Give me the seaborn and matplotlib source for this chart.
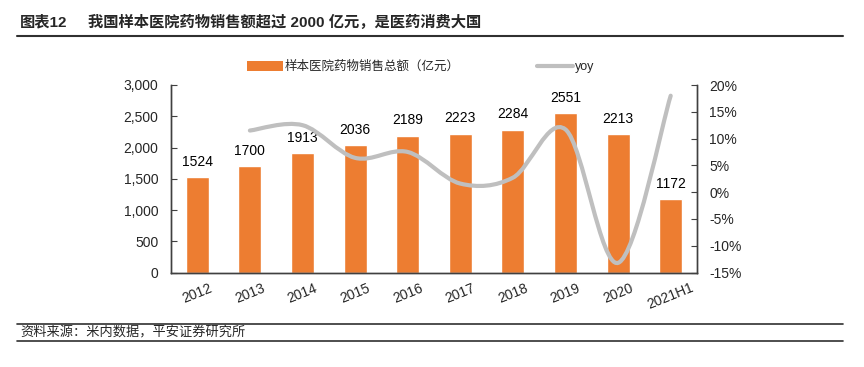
import numpy as np
import seaborn as sns
import matplotlib.pyplot as plt
from matplotlib.path import Path
from matplotlib.patches import PathPatch, Patch
from matplotlib.lines import Line2D
from matplotlib.ticker import FuncFormatter, FixedLocator

# data
years = ['2012', '2013', '2014', '2015', '2016', '2017', '2018', '2019', '2020', '2021H1']
sales = [1524, 1700, 1913, 2036, 2189, 2223, 2284, 2551, 2213, 1172]
yoy_years = ['2013', '2014', '2015', '2016', '2017', '2018', '2019', '2020', '2021H1']
yoy = [11.5, 12.5, 6.4, 7.5, 1.6, 2.7, 11.7, -13.2, 18.0]

bar_color = '#ED7D31'
line_color = '#BFBFBF'
axis_color = '#404040'

sns.set_style('white')
plt.rcParams['font.family'] = ['Liberation Sans', 'Noto Sans CJK SC', 'DejaVu Sans']
plt.rcParams['axes.unicode_minus'] = False

fig = plt.figure(figsize=(8.64, 3.67), dpi=100)
ax = fig.add_axes([171 / 864, 1 - 272.5 / 367, (697 - 171) / 864, (272.5 - 85) / 367])

sns.barplot(x=years, y=sales, color=bar_color, width=0.44, saturation=1, ax=ax)
for i, v in enumerate(sales):
    ax.annotate(str(v), (i, v), xytext=(0, 11), textcoords='offset points',
                ha='center', va='center', fontsize=10, color='black')

ax.set_xlim(-0.5, len(years) - 0.5)
ax.set_ylim(0, 3000)
ax.set_yticks(range(0, 3001, 500))
ax.yaxis.set_major_formatter(FuncFormatter(lambda v, p: '{:,.0f}'.format(v)))
ax.tick_params(axis='y', direction='in', length=4, color=axis_color, labelsize=10, pad=9)
ax.tick_params(axis='x', which='major', length=0, labelsize=10, pad=6)
ax.xaxis.set_minor_locator(FixedLocator(np.arange(-0.5, len(years), 1)))
ax.tick_params(axis='x', which='minor', direction='in', length=4, color=axis_color)
plt.setp(ax.get_xticklabels(), rotation=22, ha='center', rotation_mode='default')
ax.set_xlabel('')
ax.set_ylabel('')

ax2 = ax.twinx()
ax2.set_ylim(-15, 20)
ax2.set_yticks(range(-15, 21, 5))
ax2.yaxis.set_major_formatter(FuncFormatter(lambda v, p: '{:d}%'.format(int(v))))
ax2.tick_params(axis='y', direction='in', length=4, color=axis_color, labelsize=10, pad=9)

# smoothed yoy line (bezier through the points)
xs = np.array([years.index(y) for y in yoy_years], dtype=float)
pts = np.column_stack([xs, yoy])
verts = [pts[0]]
codes = [Path.MOVETO]
for i in range(len(pts) - 1):
    p0 = pts[i - 1] if i > 0 else pts[i]
    p1, p2 = pts[i], pts[i + 1]
    p3 = pts[i + 2] if i + 2 < len(pts) else pts[i + 1]
    verts += [p1 + (p2 - p0) / 6, p2 - (p3 - p1) / 6, p2]
    codes += [Path.CURVE4] * 3
ax2.add_patch(PathPatch(Path(verts, codes), facecolor='none', edgecolor=line_color,
                        lw=3, capstyle='round', zorder=3))

for a in (ax, ax2):
    a.spines['top'].set_visible(False)
    for s in ['left', 'right', 'bottom']:
        a.spines[s].set_color(axis_color)
        a.spines[s].set_linewidth(1)

handles = [Patch(facecolor=bar_color, edgecolor='none'),
           Line2D([0], [0], color=line_color, lw=3)]
fig.legend(handles, ['样本医院药物销售总额（亿元）', 'yoy'], ncol=2, frameon=False,
           loc='center left', bbox_to_anchor=(247 / 864, 1 - 67 / 367),
           fontsize=9, handlelength=2.9, handleheight=0.9, handletextpad=0.1,
           columnspacing=6.2, borderpad=0, borderaxespad=0)

# title and source
fig.text(20 / 864, 1 - 22 / 367, '图表12', fontsize=11, fontweight='bold', va='center')
fig.text(88 / 864, 1 - 22 / 367, '我国样本医院药物销售额超过 2000 亿元，是医药消费大国',
         fontsize=11, fontweight='bold', va='center')
fig.add_artist(Line2D([17 / 864, 843 / 864], [1 - 36 / 367, 1 - 36 / 367], color='#303030', lw=1.5))
fig.add_artist(Line2D([17 / 864, 843 / 864], [1 - 324 / 367, 1 - 324 / 367], color='#303030', lw=1.2))
fig.add_artist(Line2D([17 / 864, 843 / 864], [1 - 341 / 367, 1 - 341 / 367], color='#303030', lw=1.2))
fig.text(20 / 864, 1 - 332.5 / 367, '资料来源：米内数据，平安证券研究所', fontsize=9.5,
         style='italic', va='center')

fig.savefig('out.png', dpi=100)
